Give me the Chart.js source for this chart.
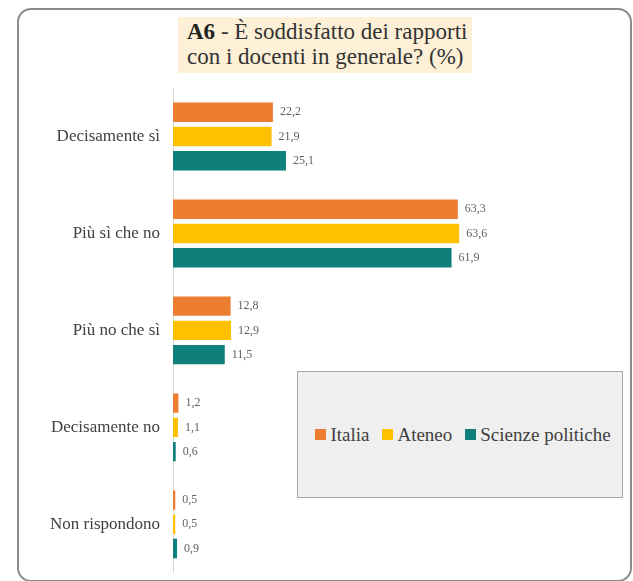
<!DOCTYPE html>
<html>
<head>
<meta charset="utf-8">
<script src="https://cdn.jsdelivr.net/npm/chart.js@4"></script>
<style>
  html, body { margin: 0; padding: 0; background: #fff; }
  #wrap { position: relative; width: 633px; height: 581px; overflow: hidden; }
  #frame {
    position: absolute; left: 17px; top: 8px; width: 615px; height: 574px;
    border: 2px solid #8c8c8c; border-radius: 14px; box-sizing: border-box;
  }
  #title {
    position: absolute; left: 178px; top: 17px; width: 294px; height: 56px;
    background: #fdf0d6; box-sizing: border-box; padding: 2px 0 0 9px;
    font-family: "Liberation Serif", serif; font-size: 23px; line-height: 25px; color: #333;
    white-space: nowrap;
  }
  #title b { color: #222; }
  #legend {
    position: absolute; left: 297px; top: 371px; width: 326px; height: 127px;
    background: #efefef; border: 1px solid #a6a6a6; box-sizing: border-box;
    display: flex; align-items: center; justify-content: center; padding-left: 6px;
    font-family: "Liberation Serif", serif; font-size: 19px; color: #404040;
  }
  #legend span.item { display: inline-flex; align-items: center; margin-right: 13px; }
  #legend span.item:last-child { margin-right: 0; }
  #legend span.sw { display: inline-block; width: 11px; height: 11px; margin-right: 4px; }
  canvas { position: absolute; left: 0; top: 0; }
</style>
</head>
<body>
<div id="wrap">
  <div id="frame"></div>
  <canvas id="chart" width="633" height="596"></canvas>
  <div id="title"><b>A6</b> - È soddisfatto dei rapporti<br>con i docenti in generale? (%)</div>
  <div id="legend"></div>
</div>
<script>
var categories = ["Decisamente sì", "Più sì che no", "Più no che sì", "Decisamente no", "Non rispondono"];
var italia = [22.2, 63.3, 12.8, 1.2, 0.5];
var ateneo = [21.9, 63.6, 12.9, 1.1, 0.5];
var scienzePolitiche = [25.1, 61.9, 11.5, 0.6, 0.9];
var seriesNames = ["Italia", "Ateneo", "Scienze politiche"];
var seriesColors = ["#ED7D31", "#FFC000", "#0E7F7A"];

var serif = "'Liberation Serif', serif";

// value labels at the end of each bar, comma decimals
var valueLabels = {
    id: 'valueLabels',
    afterDatasetsDraw: function(chart) {
        var ctx = chart.ctx;
        ctx.save();
        ctx.font = '12px ' + serif;
        ctx.fillStyle = '#5f5f5f';
        ctx.textBaseline = 'middle';
        ctx.textAlign = 'left';
        chart.data.datasets.forEach(function(ds, i) {
            chart.getDatasetMeta(i).data.forEach(function(bar, j) {
                ctx.fillText(ds.data[j].toFixed(1).replace('.', ','), bar.x + 7, bar.y);
            });
        });
        ctx.restore();
    }
};

var config = {
    type: 'bar',
    data: {
        labels: categories,
        datasets: [
            { label: seriesNames[0], data: italia, backgroundColor: seriesColors[0] },
            { label: seriesNames[1], data: ateneo, backgroundColor: seriesColors[1] },
            { label: seriesNames[2], data: scienzePolitiche, backgroundColor: seriesColors[2] }
        ]
    },
    options: {
        indexAxis: 'y',
        responsive: false,
        animation: false,
        layout: { padding: { top: 88, bottom: 21, right: 10, left: 0 } },
        datasets: { bar: { categoryPercentage: 0.75, barPercentage: 0.8 } },
        plugins: {
            legend: { display: false },
            title: { display: false },
            tooltip: { enabled: false }
        },
        scales: {
            x: { display: false, min: 0, max: 100 },
            y: {
                afterFit: function(scale) { scale.width = 173; },
                grid: { display: false, drawTicks: false },
                border: { display: true, color: '#d9d9d9', width: 1 },
                ticks: { padding: 13, color: '#404040', font: { family: serif, size: 17 } }
            }
        }
    },
    plugins: [valueLabels]
};

var ctx = document.getElementById("chart");
window.mainChart = new Chart(ctx, config);

// legend built from the datasets
var legendEl = document.getElementById("legend");
mainChart.data.datasets.forEach(function(ds) {
    var item = document.createElement('span');
    item.className = 'item';
    var sw = document.createElement('span');
    sw.className = 'sw';
    sw.style.background = ds.backgroundColor;
    item.appendChild(sw);
    item.appendChild(document.createTextNode(ds.label));
    legendEl.appendChild(item);
});
</script>
</body>
</html>
